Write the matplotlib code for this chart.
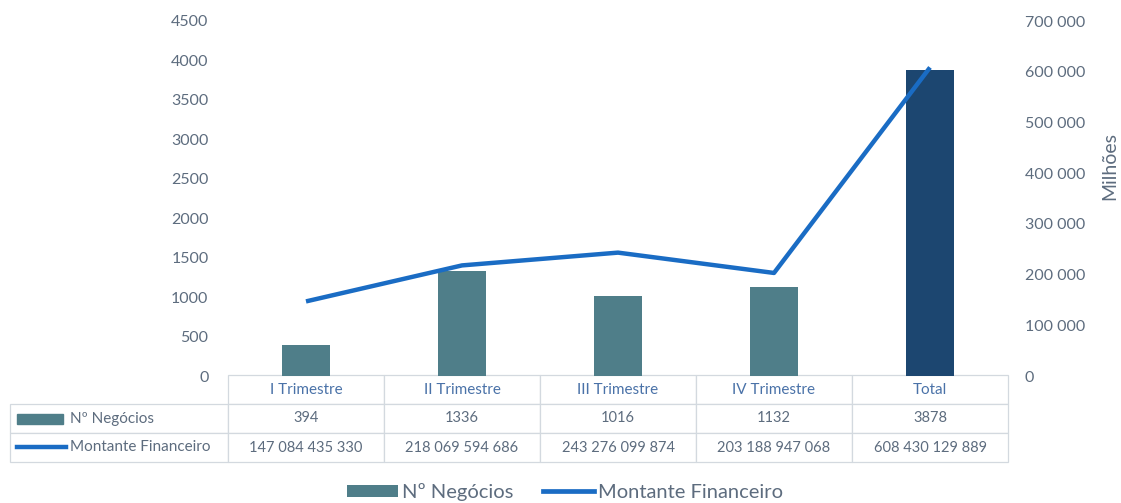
import matplotlib
matplotlib.use("Agg")
import matplotlib.pyplot as plt
from matplotlib.patches import Rectangle, Patch
from matplotlib.lines import Line2D
from matplotlib.ticker import FuncFormatter, MultipleLocator

plt.rcParams['font.family'] = ['Lato', 'DejaVu Sans']

categories = ["I Trimestre", "II Trimestre", "III Trimestre", "IV Trimestre", "Total"]
negocios = [394, 1336, 1016, 1132, 3878]
montante = [147084435330, 218069594686, 243276099874, 203188947068, 608430129889]
series_names = ["Nº Negócios", "Montante Financeiro"]

bar_color = "#4f7e89"
total_color = "#1c4670"
line_color = "#1a6cc4"
text_color = "#5d6c7e"
grid_color = "#d3d9df"

def fmt_space(v):
    return f"{int(round(v)):,}".replace(",", " ")

W, H = 1121, 503
fig = plt.figure(figsize=(W / 100, H / 100), dpi=100)
ax = fig.add_axes([228 / W, 1 - 376 / H, 780 / W, 355 / H])
ax2 = ax.twinx()

x = list(range(len(categories)))
colors = [bar_color] * (len(categories) - 1) + [total_color]
ax.bar(x, negocios, width=0.31, color=colors, zorder=2)
ax.set_xlim(-0.5, len(categories) - 0.5)
ax.set_ylim(0, 4500)
ax.yaxis.set_major_locator(MultipleLocator(500))
ax.set_xticks([])

mont_mil = [m / 1e6 for m in montante]
ax2.plot(x, mont_mil, color=line_color, lw=3.2, solid_capstyle='butt', zorder=3)
ax2.set_ylim(0, 700000)
ax2.yaxis.set_major_locator(MultipleLocator(100000))
ax2.yaxis.set_major_formatter(FuncFormatter(lambda v, p: fmt_space(v)))

for a in (ax, ax2):
    for s in a.spines.values():
        s.set_visible(False)
ax.tick_params(axis='y', length=0, pad=14, labelsize=11.5, labelcolor=text_color)
ax2.tick_params(axis='y', length=0, pad=12, labelsize=11.5, labelcolor=text_color)
for lab in ax2.get_yticklabels():
    lab.set_horizontalalignment('left')

fig.text(1110 / W, 1 - 166 / H, "Milhões", rotation=90, ha='center', va='center',
         fontsize=14, color=text_color)

# data table
row_label_w = 218 / 780
cell_text = [[""] + [str(v) for v in negocios], [""] + [fmt_space(v) for v in montante]]
tbl = ax.table(cellText=cell_text, colLabels=[""] + categories,
               colWidths=[row_label_w] + [0.2] * len(categories),
               cellLoc='center', bbox=[-row_label_w, -86 / 355, 1 + row_label_w, 87 / 355])
tbl.auto_set_font_size(False)
for (r, c), cell in tbl.get_celld().items():
    cell.set_edgecolor(grid_color)
    cell.set_linewidth(0.9)
    cell.get_text().set_fontsize(10.5)
    cell.get_text().set_color(text_color)
    if r == 0:
        cell.get_text().set_color("#4a72a8")
        cell.get_text().set_fontsize(11)
    if r == 0 and c == 0:
        cell.set_visible(False)

# row labels with legend keys
row_y = [1 - 419 / H, 1 - 447 / H]
fig.patches.append(Rectangle((17 / W, row_y[0] - 5 / H), 46 / W, 10 / H,
                             transform=fig.transFigure, color=bar_color))
fig.lines.append(Line2D([17 / W, 66 / W], [row_y[1], row_y[1]], transform=fig.transFigure,
                        color=line_color, lw=3.2))
for yy, name in zip(row_y, series_names):
    fig.text(70 / W, yy, name, ha='left', va='center', fontsize=11, color=text_color)

# legend
handles = [Patch(facecolor=bar_color, edgecolor='none'),
           Line2D([0], [0], color=line_color, lw=3.4)]
fig.legend(handles, series_names, loc='center', bbox_to_anchor=(565 / W, 1 - 492 / H),
           ncol=2, frameon=False, fontsize=14.5, labelcolor=text_color,
           handlelength=2.5, handleheight=0.55, handletextpad=0.2, columnspacing=1.5,
           borderpad=0.2)

fig.savefig("out.png", dpi=100)
